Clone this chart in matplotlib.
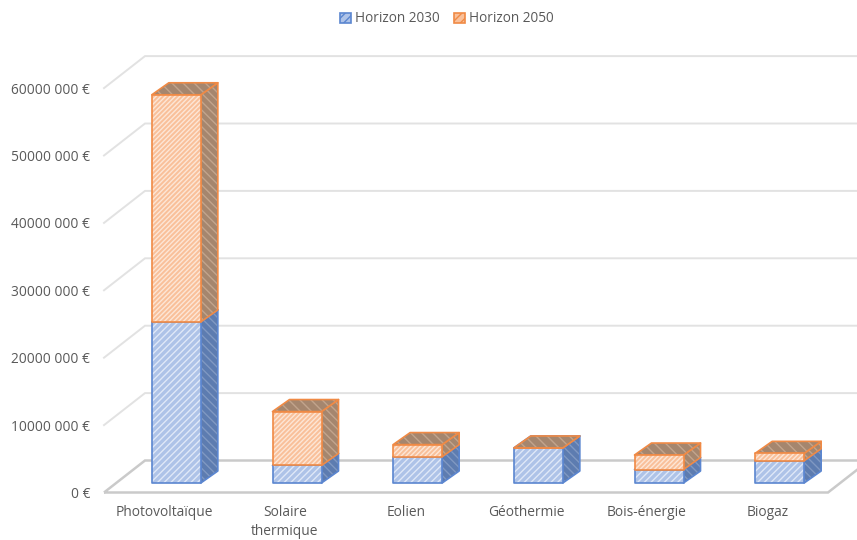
import matplotlib
matplotlib.use("Agg")
import matplotlib.pyplot as plt
from matplotlib.patches import Polygon, Patch

categories = ["Photovoltaïque", "Solaire\nthermique", "Eolien", "Géothermie", "Bois-énergie", "Biogaz"]
horizon_2030 = [23900000, 2600000, 3900000, 5200000, 2000000, 3300000]
horizon_2050 = [33700000, 8000000, 1800000, 0, 2150000, 1100000]
y_ticks = [0, 10000000, 20000000, 30000000, 40000000, 50000000, 60000000]
y_labels = ["0 €", "10000 000 €", "20000 000 €", "30000 000 €", "40000 000 €", "50000 000 €", "60000 000 €"]

W, H = 857, 540
plt.rcParams["font.family"] = ["Open Sans", "DejaVu Sans"]
plt.rcParams["hatch.linewidth"] = 1.0
fig = plt.figure(figsize=(W / 100, H / 100), dpi=100)
L, R, T, B = 104, 828, 88.1, 492.5
ax = fig.add_axes([L / W, 1 - B / H, (R - L) / W, (B - T) / H])
ax.set_xlim(-0.5, 5.5)
ax.set_ylim(0, 60000000)
for s in ax.spines.values():
    s.set_visible(False)

px_x = 6 / (R - L)
px_y = 60000000 / (B - T)
wall_dx, wall_dy = 41 * px_x, 32 * px_y
off_dx, off_dy = 12 * px_x, 9.5 * px_y
bar_w = 49 * px_x
bar_dx, bar_dy = 17 * px_x, 12 * px_y
xl, xr = -0.5, 5.5

grid_c = "#e2e2e2"
floor_c = "#cacaca"
for v in y_ticks[1:]:
    ax.plot([xl, xl + wall_dx, xr + wall_dx], [v, v + wall_dy, v + wall_dy], color=grid_c, lw=1.4,
            clip_on=False, zorder=1, solid_joinstyle="miter")
ax.add_patch(Polygon([(xl, 0), (xl + wall_dx, wall_dy), (xr + wall_dx, wall_dy), (xr, 0)], closed=True,
                     facecolor="none", edgecolor=floor_c, lw=1.8, clip_on=False, zorder=1.5))

styles = {
    "2030": dict(front="#aec3e8", side="#5d7cb0", top="#5d7cb0", hf="#dfe8f7", hs="#8098c2", edge="#5b86d0"),
    "2050": dict(front="#f9c09a", side="#a5866e", top="#a5866e", hf="#fde6d6", hs="#c2a48c", edge="#f08a45"),
}


def face(pts, fc, hc, hatch, edge, z):
    ax.add_patch(Polygon(pts, closed=True, facecolor=fc, edgecolor=hc, hatch=hatch, lw=0, clip_on=False, zorder=z))
    ax.add_patch(Polygon(pts, closed=True, facecolor="none", edgecolor=edge, lw=1.2, clip_on=False, zorder=z + 0.01,
                         joinstyle="round"))


def box(cx, y0, y1, st, z, fhatch):
    x0 = cx + off_dx - bar_w / 2
    x1 = x0 + bar_w
    b, t = y0 + off_dy, y1 + off_dy
    face([(x1, b), (x1 + bar_dx, b + bar_dy), (x1 + bar_dx, t + bar_dy), (x1, t)], st["side"], st["hs"], "\\\\\\\\", st["edge"], z)
    face([(x0, t), (x1, t), (x1 + bar_dx, t + bar_dy), (x0 + bar_dx, t + bar_dy)], st["top"], st["hs"], "\\\\\\", st["edge"], z + 0.1)
    face([(x0, b), (x1, b), (x1, t), (x0, t)], st["front"], st["hf"], fhatch, st["edge"], z + 0.2)


for i, (a, b) in enumerate(zip(horizon_2030, horizon_2050)):
    box(i, 0, a, styles["2030"], 3 + i, "/////")
    box(i, a, a + b, styles["2050"], 3.4 + i, "///////")

ax.set_xticks(range(len(categories)))
ax.set_xticklabels(categories, fontsize=9.9, color="#595959", linespacing=1.4)
ax.set_yticks(y_ticks)
ax.set_yticklabels(y_labels, fontsize=9.9, color="#595959")
ax.tick_params(axis="x", length=0, pad=9)
ax.tick_params(axis="y", length=0, pad=10)

handles = [Patch(facecolor=styles["2030"]["front"], edgecolor=styles["2030"]["edge"], hatch="////", lw=1.2, label="Horizon 2030"),
           Patch(facecolor=styles["2050"]["front"], edgecolor=styles["2050"]["edge"], hatch="////", lw=1.2, label="Horizon 2050")]
leg = fig.legend(handles=handles, loc="center", bbox_to_anchor=(447 / W, 1 - 19 / H), ncol=2, frameon=False,
                 fontsize=9.8, labelcolor="#595959", handlelength=0.8, handleheight=0.8, handletextpad=0.3,
                 columnspacing=1.0, borderpad=0)

fig.savefig("out.png", dpi=100, facecolor="white")
